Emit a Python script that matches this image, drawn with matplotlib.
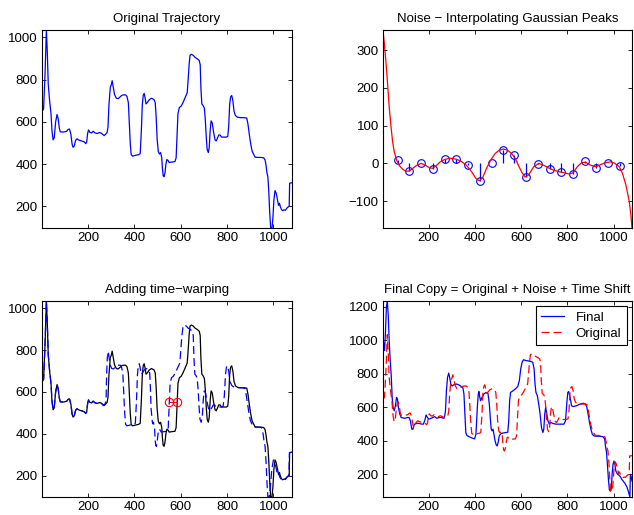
import matplotlib
matplotlib.use('Agg')
import matplotlib.pyplot as plt

plt.rcParams['font.family'] = ['Liberation Sans', 'DejaVu Sans']

# ── data ──────────────────────────────────────────────────────────
orig_x = [1, 8, 14, 20, 24, 28, 34, 40, 44, 49, 54, 60, 66, 71, 76, 80, 95, 108, 114, 120,
          126, 131, 135, 140, 146, 152, 160, 172, 184, 190, 194, 198, 202, 208, 215, 222, 230,
          240, 250, 258, 264, 269, 276, 282, 286, 290, 296, 300, 304, 308, 314, 322, 330, 338,
          346, 354, 362, 368, 374, 378, 382, 386, 392, 405, 418, 425, 430, 434, 438, 442, 446,
          450, 456, 464, 474, 485, 490, 494, 498, 503, 508, 513, 518, 521, 524, 528, 532, 536,
          540, 545, 550, 560, 575, 580, 584, 588, 594, 602, 610, 618, 624, 628, 632, 636, 640,
          646, 654, 662, 672, 680, 684, 687, 691, 696, 702, 706, 710, 714, 719, 723, 727, 731,
          736, 742, 748, 753, 758, 764, 770, 776, 785, 797, 803, 807, 811, 815, 820, 825, 830,
          836, 845, 860, 875, 885, 890, 896, 902, 908, 914, 921, 932, 945, 958, 964, 968, 972,
          976, 980, 984, 988, 994, 998, 1002, 1007, 1012, 1017, 1022, 1026, 1030, 1035, 1040,
          1046, 1052, 1058, 1064, 1068, 1070, 1080]
orig_y = [650, 660, 820, 1035, 930, 780, 700, 640, 560, 515, 525, 600, 635, 615, 570, 553, 552,
          556, 565, 566, 540, 495, 480, 485, 512, 520, 514, 510, 505, 497, 505, 545, 562, 550,
          548, 556, 548, 545, 550, 546, 540, 535, 542, 550, 575, 680, 765, 775, 795, 770, 730,
          712, 710, 718, 726, 728, 728, 720, 690, 600, 500, 445, 438, 442, 445, 450, 560, 680,
          725, 735, 715, 685, 692, 705, 712, 705, 690, 620, 520, 460, 448, 455, 430, 380, 345,
          340, 360, 400, 422, 418, 408, 410, 412, 430, 540, 640, 668, 675, 692, 712, 728, 740,
          800, 870, 915, 920, 915, 905, 898, 890, 870, 760, 685, 678, 665, 610, 530, 470, 455,
          480, 560, 605, 595, 550, 515, 510, 522, 538, 538, 528, 528, 528, 532, 580, 680, 718,
          725, 700, 650, 630, 622, 620, 620, 618, 590, 540, 495, 462, 448, 433, 432, 432, 430,
          420, 395, 360, 340, 270, 170, 100, 98, 150, 230, 275, 262, 235, 205, 215, 198, 185,
          180, 184, 182, 192, 198, 200, 310, 312]

# time-warped copy (same values, shifted sample positions)
warp_x = [1, 8, 14, 20, 24, 28, 34, 40, 44, 49, 54, 60, 66, 71, 76, 80, 95, 108, 114, 120,
          126, 131, 135, 140, 146, 152, 160, 172, 184, 190, 194, 198, 202, 208, 215, 222, 230,
          240, 250, 257, 262, 266, 272, 276, 278, 280, 283, 285, 287, 290, 295, 302, 309, 317,
          324, 332, 339, 344, 350, 354, 358, 362, 368, 382, 397, 404, 409, 413, 417, 421, 425,
          429, 435, 443, 452, 462, 466, 469, 472, 477, 479, 482, 487, 489, 492, 495, 498, 502,
          506, 511, 516, 526, 541, 546, 550, 554, 560, 568, 577, 585, 592, 596, 600, 605, 610,
          616, 624, 632, 642, 650, 654, 657, 661, 666, 671, 675, 679, 683, 688, 693, 697, 701,
          707, 714, 721, 727, 733, 740, 746, 752, 763, 776, 783, 788, 793, 797, 802, 807, 812,
          821, 832, 850, 866, 877, 882, 889, 895, 901, 907, 913, 924, 936, 948, 952, 956, 960,
          964, 968, 972, 976, 982, 987, 993, 1000, 1006, 1012, 1017, 1022, 1026, 1031, 1037,
          1044, 1050, 1057, 1063, 1067, 1069, 1080]

# red circles marking one warp anchor
anchor_x = [550, 582]
anchor_y = [550, 550]

# noise knots (circles) and interpolating curve
knot_x = [65, 116, 167, 217, 268, 319, 370, 421, 472, 520, 571, 622, 673, 724, 773, 824,
          875, 926, 977, 1028]
knot_y = [10, -20, 0, -15, 11, 11, -5, -46, 2, 35, 22, -36, -2, -16, -24, -28, 5, -11, 2, -7]
noise_x = [1, 7, 14, 21, 28, 36, 43, 50, 60, 72, 87, 101, 116, 130, 148, 167, 185, 203, 217,
           232, 249, 268, 290, 319, 341, 363, 385, 404, 418, 433, 450, 468, 487, 505, 523, 540,
           559, 575, 590, 603, 617, 632, 654, 676, 697, 719, 741, 763, 785, 807, 825, 843, 862,
           879, 901, 923, 945, 967, 988, 1006, 1025, 1039, 1054, 1068, 1075, 1080]
noise_y = [353, 318, 269, 212, 150, 97, 57, 31, 9, -6, -16, -21, -20, -13, -5, 0, -5, -12, -13,
           -6, 4, 10, 14, 11, 5, -5, -22, -40, -46, -38, -13, 9, 26, 35, 38, 35, 26, 12, -8,
           -24, -36, -31, -9, 0, -5, -12, -18, -22, -25, -28, -25, -9, 2, 3, -5, -9, -3, 2, 4,
           0, -9, -27, -58, -100, -135, -171]

# final copy = warped + noise
final_x = [1, 5, 8, 12, 16, 20, 24, 28, 33, 37, 41, 45, 50, 55, 60, 64, 68, 74, 80, 95, 108,
           114, 120, 126, 131, 136, 142, 155, 170, 176, 182, 188, 194, 200, 210, 218, 225, 235,
           245, 255, 262, 268, 272, 276, 281, 286, 290, 295, 301, 308, 318, 330, 340, 347, 352,
           356, 360, 365, 375, 385, 398, 404, 410, 414, 417, 420, 424, 430, 438, 448, 456, 462,
           466, 470, 474, 478, 482, 487, 492, 496, 500, 505, 510, 515, 525, 535, 542, 546, 550,
           554, 560, 570, 578, 585, 592, 598, 604, 610, 620, 630, 640, 650, 656, 660, 664, 670,
           676, 682, 688, 694, 698, 702, 706, 710, 716, 722, 728, 736, 750, 770, 785, 792, 798,
           802, 806, 812, 818, 825, 840, 855, 870, 878, 884, 890, 896, 902, 908, 915, 925, 940,
           955, 962, 966, 970, 974, 978, 982, 986, 990, 994, 998, 1002, 1006, 1010, 1014, 1018,
           1024, 1030, 1036, 1042, 1050, 1058, 1064, 1068, 1071, 1073, 1076, 1080]
final_y = [1000, 980, 940, 1050, 1200, 1236, 1150, 1000, 870, 790, 660, 600, 580, 610, 660,
           650, 600, 560, 540, 535, 540, 540, 520, 470, 470, 495, 505, 505, 500, 500, 520, 555,
           540, 530, 535, 540, 545, 535, 540, 540, 535, 545, 580, 700, 780, 805, 780, 740, 728,
           735, 740, 735, 725, 720, 680, 560, 450, 432, 425, 418, 412, 440, 600, 680, 695, 665,
           640, 660, 680, 690, 685, 620, 540, 470, 460, 470, 440, 400, 375, 370, 390, 430, 440,
           445, 448, 450, 452, 520, 640, 690, 695, 705, 715, 725, 760, 830, 870, 885, 880, 878,
           875, 870, 830, 740, 690, 670, 620, 560, 480, 450, 470, 560, 600, 570, 520, 500, 510,
           505, 500, 500, 500, 520, 630, 690, 695, 660, 610, 605, 610, 620, 625, 620, 605, 560,
           510, 470, 440, 430, 428, 428, 425, 410, 360, 330, 250, 170, 110, 100, 110, 200, 260,
           280, 260, 220, 210, 200, 195, 185, 170, 160, 145, 125, 100, 80, 65, 200, 190, 160]

x_ticks = [200, 400, 600, 800, 1000]
XLIM = (1, 1080)
DASH = (6.4, 3.2)


def style_axes(ax, yticks):
    # MATLAB look: inward ticks on all four sides, tight limits
    ax.set_xlim(*XLIM)
    ax.set_xticks(x_ticks)
    ax.set_yticks(yticks)
    ax.tick_params(direction='in', top=True, right=True, length=3, width=0.6,
                   labelsize=9.5, pad=3)
    for s in ax.spines.values():
        s.set_linewidth(0.8)


fig = plt.figure(figsize=(6.34, 5.15), dpi=100)

# ── top left: original trajectory ─────────────────────────────────
ax1 = fig.add_axes([0.0662, 0.5573, 0.3943, 0.3845])
ax1.plot(orig_x, orig_y, color='b', lw=0.9)
ax1.set_ylim(min(orig_y), max(orig_y))
style_axes(ax1, [200, 400, 600, 800, 1000])
ax1.set_title("Original Trajectory", fontsize=9.5, pad=6)

# ── top right: noise ─────────────────────────────────────────────
ax2 = fig.add_axes([0.604, 0.5573, 0.3928, 0.3845])
ax2.vlines(knot_x, 0, knot_y, color='b', lw=0.9)
ax2.plot(knot_x, knot_y, 'o', mfc='none', mec='b', ms=5.5, mew=0.8)
ax2.plot(noise_x, noise_y, color='r', lw=0.9)
ax2.set_ylim(min(noise_y), max(noise_y))
style_axes(ax2, [-100, 0, 100, 200, 300])
ax2.set_title("Noise \u2212 Interpolating Gaussian Peaks", fontsize=9.5, pad=6)

# ── bottom left: time warping ─────────────────────────────────────
ax3 = fig.add_axes([0.0662, 0.035, 0.3943, 0.3806])
ax3.plot(orig_x, orig_y, color='k', lw=0.9)
ax3.plot(warp_x, orig_y, color='b', lw=0.9, dashes=DASH)
ax3.plot(anchor_x, anchor_y, 'o-', color='r', mfc='none', ms=6, mew=0.8, lw=0.8)
ax3.set_ylim(min(orig_y), max(orig_y))
style_axes(ax3, [200, 400, 600, 800, 1000])
ax3.set_title("Adding time\u2212warping", fontsize=9.5, pad=6)

# ── bottom right: final copy ──────────────────────────────────────
ax4 = fig.add_axes([0.604, 0.035, 0.3928, 0.3806])
ax4.plot(final_x, final_y, color='b', lw=0.9, label="Final")
ax4.plot(orig_x, orig_y, color='r', lw=0.9, dashes=DASH, label="Original")
ax4.set_ylim(min(final_y), max(final_y))
style_axes(ax4, [200, 400, 600, 800, 1000, 1200])
ax4.set_title("Final Copy = Original + Noise + Time Shift", fontsize=9.5, pad=6)
leg = ax4.legend(loc='upper right', fontsize=9.5, fancybox=False, framealpha=1,
                 edgecolor='k', handlelength=1.7, handletextpad=0.9, borderpad=0.4,
                 labelspacing=0.3, borderaxespad=0.4)
leg.get_frame().set_linewidth(0.8)

fig.savefig("out.png", dpi=100)
